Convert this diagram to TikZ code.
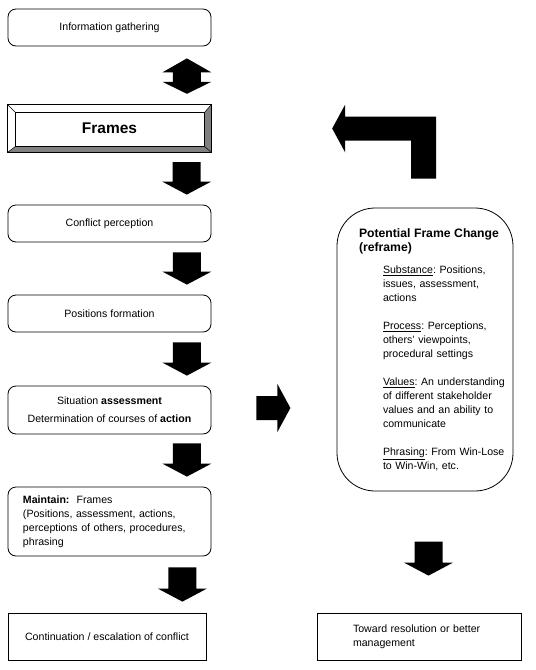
\documentclass[tikz,border=0pt]{standalone}
\usepackage{fontspec}
\setmainfont{Liberation Sans}
\usetikzlibrary{calc}

\definecolor{bevgray}{RGB}{128,128,128}
\frenchspacing

% block arrows, drawn between two points (canvas units)
\newcommand{\blkdown}[2]{%
  \fill let \p1=#1, \p2=#2 in
    (\x1-14pt,\y1) -- (\x1+14pt,\y1) -- (\x1+14pt,\y2+13pt) -- (\x1+24.5pt,\y2+13pt)
    -- (\x1,\y2) -- (\x1-24.5pt,\y2+13pt) -- (\x1-14pt,\y2+13pt) -- cycle;}
\newcommand{\blkboth}[2]{%
  \fill let \p1=#1, \p2=#2 in
    (\x1,\y1) -- (\x1+24.5pt,\y1-14pt) -- (\x1+14pt,\y1-14pt) -- (\x1+14pt,\y2+12pt)
    -- (\x1+24.5pt,\y2+12pt) -- (\x1,\y2) -- (\x1-24.5pt,\y2+12pt) -- (\x1-14pt,\y2+12pt)
    -- (\x1-14pt,\y1-14pt) -- (\x1-24.5pt,\y1-14pt) -- cycle;}
\newcommand{\blkright}[2]{%
  \fill let \p1=#1, \p2=#2 in
    (\x1,\y1+12pt) -- (\x2-13pt,\y1+12pt) -- (\x2-13pt,\y1+24pt) -- (\x2,\y1)
    -- (\x2-13pt,\y1-24pt) -- (\x2-13pt,\y1-12pt) -- (\x1,\y1-12pt) -- cycle;}
\newcommand{\blkbent}[2]{%
  \fill let \p1=#1, \p2=#2 in
    (\x1-12.5pt,\y1) -- (\x1+12.5pt,\y1) -- (\x1+12.5pt,\y2+12pt) -- (\x2+13pt,\y2+12pt)
    -- (\x2+13pt,\y2+24pt) -- (\x2,\y2) -- (\x2+13pt,\y2-24pt) -- (\x2+13pt,\y2-12pt)
    -- (\x1-12.5pt,\y2-12pt) -- cycle;}

\tikzset{
  txt/.style={font=\fontsize{10.6}{14}\selectfont, inner sep=0pt},
  box/.style={txt, draw, line width=0.8pt, rounded corners=8pt, minimum width=203pt},
  sqbox/.style={txt, draw, line width=0.8pt, minimum height=47pt},
  framebox/.style={minimum width=203pt, minimum height=47pt, inner sep=0pt,
    font=\fontsize{15.5}{18}\selectfont\bfseries},
  pfcbox/.style={txt, draw, line width=0.8pt, rounded corners=38pt,
    minimum width=176pt, minimum height=283pt, text width=170pt, align=left}
}

\begin{document}
\begin{tikzpicture}[x=1pt, y=-1pt]
\useasboundingbox (0,0) rectangle (536,670);

% left column
\node[box, minimum height=37pt] (info) at (109.5,27.5) {Information gathering};
\node[framebox] (frames) at (109.5,128.5) {Frames};
\node[box, minimum height=37pt] (conf) at (109.5,223.5) {Conflict perception};
\node[box, minimum height=37pt] (posf) at (109.5,313.5) {Positions formation};
\node[box, minimum height=48pt, align=center] (sit) at (109.5,410)
  {Situation \textbf{assessment}\\[4pt]Determination of courses of \textbf{action}};
\node[box, minimum height=69pt, text width=173pt, align=left] (maint) at (109.5,521.5)
  {\textbf{Maintain:}\ \ Frames\\(Positions, assessment, actions,\\perceptions of others, procedures,\\phrasing};
\node[sqbox, minimum width=198pt] (cont) at (107,636.5) {Continuation / escalation of conflict};

% bevelled frame
\fill[bevgray] (frames.north east) -- (frames.south east) -- (frames.south west)
  -- ($(frames.south west)+(8,-6)$) -- ($(frames.south east)+(-7,-6)$)
  -- ($(frames.north east)+(-7,8)$) -- cycle;
\draw[line width=0.8pt] (frames.north west) rectangle (frames.south east);
\draw[line width=0.8pt] ($(frames.north west)+(8,8)$) rectangle ($(frames.south east)+(-7,-6)$);
\draw[line width=0.5pt] (frames.north west) -- ($(frames.north west)+(8,8)$)
  (frames.north east) -- ($(frames.north east)+(-7,8)$)
  (frames.south east) -- ($(frames.south east)+(-7,-6)$)
  (frames.south west) -- ($(frames.south west)+(8,-6)$);

% right column
\node[pfcbox] (pfc) at (425,349.5) {%
  {\leftskip=19pt \fontsize{12.2}{14}\selectfont\bfseries Potential Frame Change\\(reframe)\par}
  \vspace{8pt}
  {\leftskip=43pt \underline{Substance}: Positions,\\issues, assessment,\\actions\par}
  \vspace{14pt}
  {\leftskip=43pt \underline{Process}: Perceptions,\\others' viewpoints,\\procedural settings\par}
  \vspace{14pt}
  {\leftskip=43pt \underline{Values}: An understanding\\of different stakeholder\\values and an ability to\\communicate\par}
  \vspace{14pt}
  {\leftskip=43pt \underline{Phrasing}: From Win-Lose\\to Win-Win, etc.\par}};
\node[sqbox, minimum width=204pt, text width=132pt, align=left] (toward) at (419,636.5)
  {Toward resolution or better\\management};

% block arrows
\blkboth{($(info.south east)+(-24.5,12)$)}{($(frames.north east)+(-24.5,-11)$)}
\blkdown{($(frames.south east)+(-24.5,10)$)}{($(conf.north east)+(-24.5,-10)$)}
\blkdown{($(conf.south east)+(-24.5,10)$)}{($(posf.north east)+(-24.5,-10)$)}
\blkdown{($(posf.south east)+(-24.5,10)$)}{($(sit.north east)+(-24.5,-10)$)}
\blkdown{($(sit.south east)+(-24.5,9)$)}{($(maint.north east)+(-24.5,-10)$)}
\blkdown{($(cont.north east |- maint.south)+(-24,11)$)}{($(cont.north east)+(-24,-11)$)}
\blkright{($(sit.east)+(45,-2)$)}{($(sit.east)+(79,-2)$)}
\blkbent{($(pfc.north)+(-1.5,-29)$)}{($(frames.east)+(121,0)$)}
\blkdown{($(toward.north)+(9.5,-71)$)}{($(toward.north)+(9.5,-37)$)}
\end{tikzpicture}
\end{document}
